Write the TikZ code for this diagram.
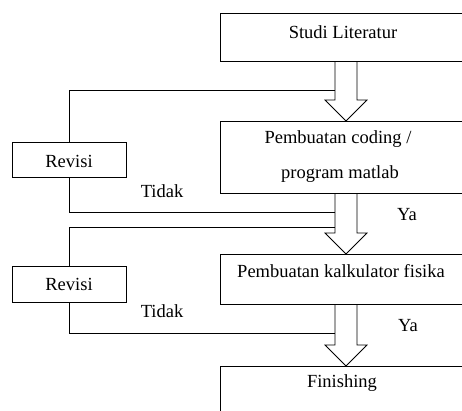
\documentclass[tikz,border=0pt]{standalone}
\usepackage{fontspec}
\setmainfont{Liberation Serif}
\usetikzlibrary{calc}
\def\fatarrow(#1)(#2){\draw[line width=0.8pt] let \p1=(#1), \p2=(#2) in (\x1-11pt,\y1) -- (\x1-11pt,\y2+21pt) -- (\x1-21pt,\y2+21pt) -- (\x2,\y2) -- (\x1+21pt,\y2+21pt) -- (\x1+11pt,\y2+21pt) -- (\x1+11pt,\y1);}

\begin{document}
\begin{tikzpicture}[x=1pt,y=-1pt,
		box/.style={draw,line width=0.8pt,inner sep=0pt,anchor=north west},
		txt/.style={font=\fontsize{18.5}{22}\selectfont,inner sep=0pt,anchor=base}]
		%%%%% START %%%%%
		\useasboundingbox (0,0) rectangle (462,410);
		\clip (0,0) rectangle (462,410);
		
		\coordinate (spine) at (346,0);
		
		\node[box,minimum width=246,minimum height=48] (studi) at (220,13) {};
		\node[box,minimum width=246,minimum height=72] (coding) at (220,121) {};
		\node[box,minimum width=246,minimum height=50] (kalk) at (220,254) {};
		\node[box,minimum width=246,minimum height=80] (finish) at (220,366) {};
		
		\node[box,minimum width=114,minimum height=35] (rev1) at (12,142) {};
		\node[box,minimum width=114,minimum height=36] (rev2) at (12,266) {};
		
		\node[txt] (tstudi) at (343,38) {Studi Literatur};
		\node[txt] (tcoding) at (338,143) {Pembuatan coding /};
		\node[txt] (tmatlab) at (340,178) {program matlab};
		\node[txt] (tkalk) at (341,277) {Pembuatan kalkulator fisika};
		\node[txt] (tfinish) at (342,387) {Finishing};
		\node[txt] (trev1) at (69,167) {Revisi};
		\node[txt] (trev2) at (69,290) {Revisi};
		\node[txt] (tidak1) at (162,197) {Tidak};
		\node[txt] (tidak2) at (162,317) {Tidak};
		\node[txt] (ya1) at (407,220) {Ya};
		\node[txt] (ya2) at (408,331) {Ya};
		
		\fatarrow(studi.south -| spine)(coding.north -| spine)
		\fatarrow(coding.south -| spine)(kalk.north -| spine)
		\fatarrow(kalk.south -| spine)(finish.north -| spine)
		
		\coordinate (j1) at (335,90);
		\coordinate (j2) at (335,212);
		\coordinate (j3) at (335,227);
		\coordinate (j4) at (335,333);
		\draw[line width=0.8pt] (rev1.north) |- (j1);
		\draw[line width=0.8pt] (rev1.south) |- (j2);
		\draw[line width=0.8pt] (rev2.north) |- (j3);
		\draw[line width=0.8pt] (rev2.south) |- (j4);
		
		%%%%% END %%%%%
	\end{tikzpicture}
\end{document}
